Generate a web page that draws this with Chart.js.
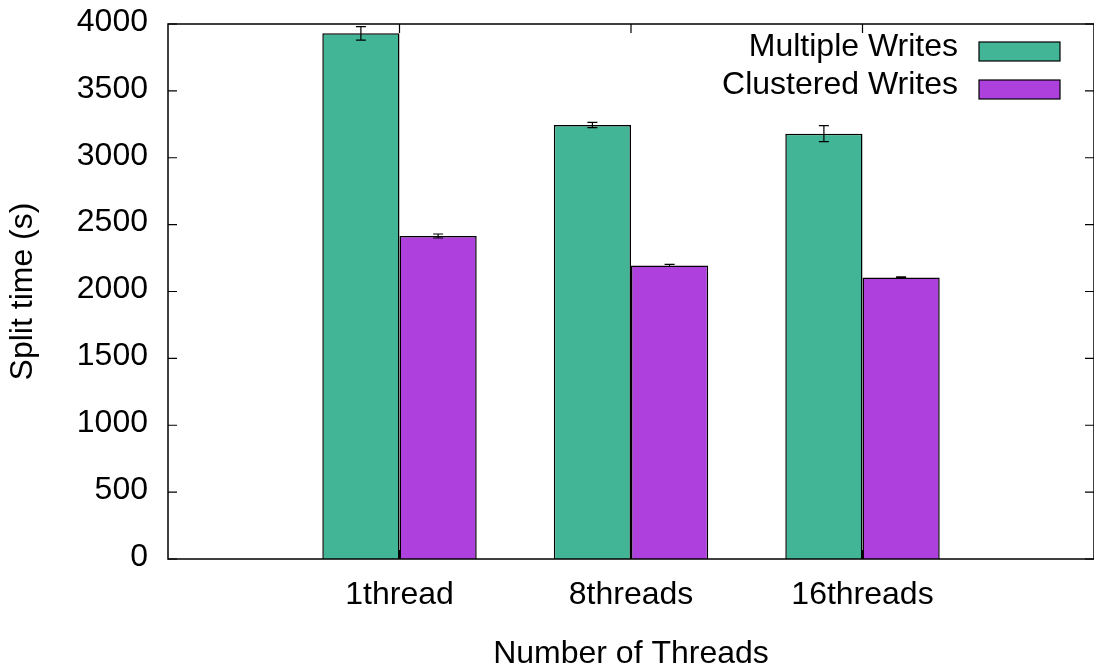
<!DOCTYPE html>
<html>
<head>
<meta charset="utf-8">
<script src="https://cdn.jsdelivr.net/npm/chart.js@4/dist/chart.umd.min.js"></script>
<style>
  body { margin: 0; background: #fff; }
  #wrap { width: 1094px; height: 668px; }
</style>
</head>
<body>
<div id="wrap"><canvas id="chart"></canvas></div>
<script>
// Chart values (empty slots at both ends give the gnuplot-style margins)
const categories = ['', '1thread', '8threads', '16threads', ''];
const multipleWrites = [null, 3930, 3245, 3180, null];
const multipleErrors = [null, 50, 20, 60, null];
const clusteredWrites = [null, 2415, 2195, 2105, null];
const clusteredErrors = [null, 15, 8, 5, null];
const yTicks = [0, 500, 1000, 1500, 2000, 2500, 3000, 3500, 4000];

const FONT = '"Liberation Sans", Arial, sans-serif';
const SIZE = 32;
const GREEN = '#41b596';
const PURPLE = '#ae40dd';

// Error bars on top of each bar
const errorBars = {
    id: 'errorBars',
    afterDatasetsDraw(chart) {
        const ctx = chart.ctx;
        const y = chart.scales.y;
        ctx.save();
        ctx.strokeStyle = '#000';
        ctx.lineWidth = 1.2;
        chart.data.datasets.forEach((ds, i) => {
            const meta = chart.getDatasetMeta(i);
            meta.data.forEach((bar, j) => {
                const v = ds.data[j];
                const e = ds.errors[j];
                if (v == null || e == null) return;
                const top = y.getPixelForValue(v + e);
                const bot = y.getPixelForValue(v - e);
                ctx.beginPath();
                ctx.moveTo(bar.x, top); ctx.lineTo(bar.x, bot);
                ctx.moveTo(bar.x - 5, top); ctx.lineTo(bar.x + 5, top);
                ctx.moveTo(bar.x - 5, bot); ctx.lineTo(bar.x + 5, bot);
                ctx.stroke();
            });
        });
        ctx.restore();
    }
};

// Box border with inward mirrored ticks, and legend inside top right
const frame = {
    id: 'frame',
    afterDraw(chart) {
        const ctx = chart.ctx;
        const a = chart.chartArea;
        const x = chart.scales.x, y = chart.scales.y;
        ctx.save();
        ctx.strokeStyle = '#000';
        ctx.lineWidth = 1.2;
        ctx.beginPath();
        yTicks.forEach(t => {
            const p = y.getPixelForValue(t);
            ctx.moveTo(a.left, p); ctx.lineTo(a.left + 9, p);
            ctx.moveTo(a.right, p); ctx.lineTo(a.right - 9, p);
        });
        categories.forEach((c, i) => {
            if (!c) return;
            const p = x.getPixelForValue(i);
            ctx.moveTo(p, a.bottom); ctx.lineTo(p, a.bottom - 9);
            ctx.moveTo(p, a.top); ctx.lineTo(p, a.top + 9);
        });
        ctx.stroke();
        ctx.lineWidth = 1.5;
        ctx.strokeRect(a.left, a.top, a.right - a.left, a.bottom - a.top);

        // legend
        ctx.font = SIZE + 'px ' + FONT;
        ctx.textAlign = 'right';
        ctx.textBaseline = 'middle';
        ctx.lineWidth = 1.2;
        chart.data.datasets.forEach((ds, i) => {
            const boxTop = a.top + 18 + i * 38;
            ctx.fillStyle = '#000';
            ctx.fillText(ds.label, a.right - 136, boxTop + 5);
            ctx.fillStyle = ds.backgroundColor;
            ctx.fillRect(a.right - 115, boxTop, 81, 19);
            ctx.strokeRect(a.right - 115, boxTop, 81, 19);
        });
        ctx.restore();
    }
};

const font = { family: FONT, size: SIZE, lineHeight: 1 };

new Chart(document.getElementById('chart'), {
    type: 'bar',
    data: {
        labels: categories,
        datasets: [
            {
                label: 'Multiple Writes',
                data: multipleWrites,
                errors: multipleErrors,
                backgroundColor: GREEN,
                borderColor: '#000',
                borderWidth: 1.5
            },
            {
                label: 'Clustered Writes',
                data: clusteredWrites,
                errors: clusteredErrors,
                backgroundColor: PURPLE,
                borderColor: '#000',
                borderWidth: 1.5
            }
        ]
    },
    options: {
        responsive: true,
        maintainAspectRatio: false,
        animation: false,
        layout: { padding: { top: 24, right: -1, left: 0, bottom: 0 } },
        datasets: { bar: { barPercentage: 1, categoryPercentage: 0.667 } },
        plugins: {
            legend: { display: false },
            tooltip: { enabled: false }
        },
        scales: {
            x: {
                offset: false,
                grid: { display: false, drawTicks: false },
                border: { display: false },
                ticks: { color: '#000', padding: 20, maxRotation: 0, autoSkip: false, font },
                title: { display: true, text: 'Number of Threads', color: '#000', padding: { top: 0, bottom: -2 }, font },
                afterFit(scale) {
                    scale.height = 109;
                    scale.paddingLeft = 0;
                    scale.paddingRight = 0;
                }
            },
            y: {
                min: 0,
                max: 4000,
                grid: { display: false, drawTicks: false },
                border: { display: false },
                afterBuildTicks(scale) { scale.ticks = yTicks.map(v => ({ value: v })); },
                ticks: { color: '#000', padding: 20, labelOffset: -2, font, callback: v => String(v) },
                title: { display: true, text: 'Split time (s)', color: '#000', padding: { top: 7, bottom: 0 }, font },
                afterFit(scale) {
                    scale.width = 168;
                    scale.paddingTop = 0;
                    scale.paddingBottom = 0;
                }
            }
        }
    },
    plugins: [errorBars, frame]
});
</script>
</body>
</html>
